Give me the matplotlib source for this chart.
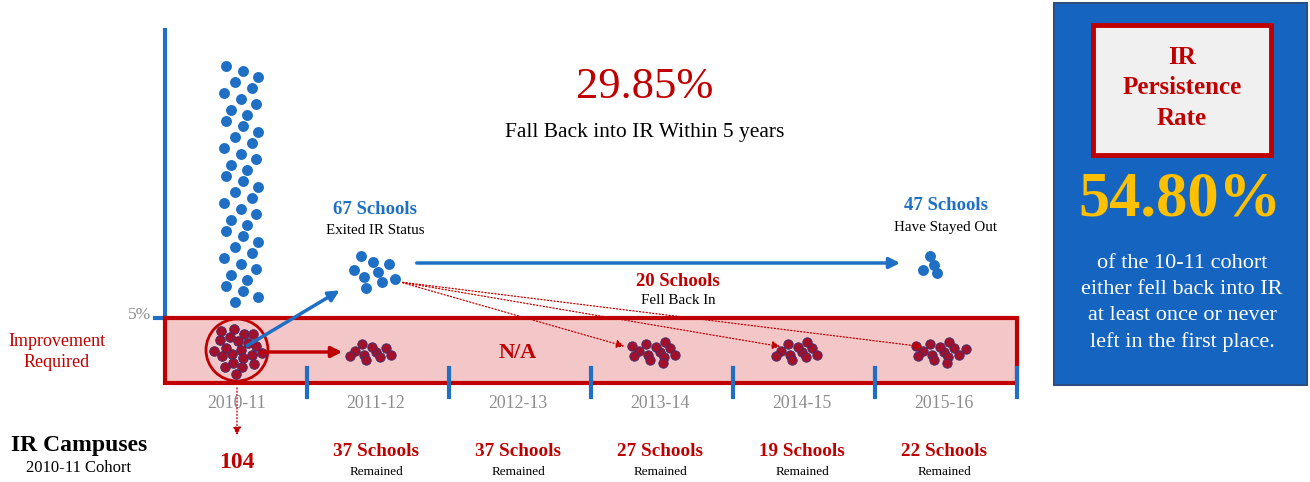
import numpy as np
import matplotlib
matplotlib.use("Agg")
import matplotlib.pyplot as plt
from matplotlib.patches import Rectangle, Circle

plt.rcParams['font.family'] = ['Liberation Serif', 'DejaVu Serif']

# --- data ---
years = ["2010-11", "2011-12", "2012-13", "2013-14", "2014-15", "2015-16"]
remained = [None, 37, 37, 27, 19, 22]          # None = 2012-13 shown as N/A in the band
cohort_total = 104
exited = 67
fell_back = 20
stayed_out = 47
fall_back_rate = "29.85%"
persistence_rate = "54.80%"
# decorative dot counts for each cluster in the band (2011-12 .. 2015-16)
band_dots = [10, 0, 13, 11, 14]

BLUE = "#1f6fc5"
RED = "#c00000"
DOT_RED = "#a3102c"
DOT_EDGE = "#3a2f6e"
GRAY = "#8c8c8c"

fig = plt.figure(figsize=(13.1, 4.82), dpi=100)
ax = fig.add_axes([0, 0, 1, 1])
ax.set_xlim(0, 1310)
ax.set_ylim(482, 0)
ax.axis("off")

# layout in pixels
x0, band_top, band_bot = 165, 318, 383
col_w = 142
centers = [237] + [376 + col_w * i for i in range(5)]


def cluster(cx, cy, n, sx=1.7, sy=1.0, step=5.2):
    # sunflower layout for a tidy blob of dots
    i = np.arange(n)
    r = step * np.sqrt(i + 0.5)
    t = i * 2.39996
    return cx + sx * r * np.cos(t), cy + sy * r * np.sin(t)


# vertical axis and 5% tick
ax.plot([x0, x0], [30, band_top], color=BLUE, lw=3, zorder=1)
ax.plot([155, x0], [band_top, band_top], color=BLUE, lw=3, zorder=1)
ax.text(151, 315, "5%", ha="right", va="center", fontsize=12.5, color=GRAY)

# red band
ax.add_patch(Rectangle((x0, band_top), 1017 - x0, band_bot - band_top,
                       facecolor="#f3c6c8", edgecolor=RED, lw=3, zorder=2))
ax.text(57, 352, "Improvement\nRequired", ha="center", va="center",
        fontsize=13, color=RED, linespacing=1.35)

# blue ticks between years
for i in range(6):
    xt = 307 + col_w * i
    ax.plot([xt, xt], [368, 397], color=BLUE, lw=3, zorder=3)
for xc, yr in zip(centers, years):
    ax.text(xc, 404, yr, ha="center", va="center", fontsize=12.8, color=GRAY)

# 2010-11 column of schools that were above 5%
offs = [-15, 2, 17, -6, 11, -17, 0, 15, -10, 6]
ny = 44
ys = np.linspace(66, 302, ny)
xs = [241 + offs[k % len(offs)] for k in range(ny)]
ax.scatter(xs, ys, s=62, color=BLUE, zorder=4, linewidths=0)

# circle of IR campuses in 2010-11
ax.add_patch(Circle((237, 350), 31, facecolor="none", edgecolor=RED, lw=2, zorder=4))
cx_, cy_ = cluster(237, 350, 22, sx=1.0, sy=1.0, step=5.4)
ax.scatter(cx_, cy_, s=48, color=DOT_RED, edgecolor=DOT_EDGE, linewidths=0.6, zorder=5)

# band clusters
for xc, n in zip(centers[1:], band_dots):
    if n == 0:
        continue
    px, py = cluster(xc - 5, 352, n, sx=1.7, sy=0.75, step=4.4)
    ax.scatter(px, py, s=46, color=DOT_RED, edgecolor=DOT_EDGE, linewidths=0.6, zorder=5)
ax.text(centers[2], 353, "N/A", ha="center", va="center", fontsize=16,
        fontweight="bold", color=RED)

# exited cluster and stayed-out cluster
px, py = cluster(372, 272, 9, sx=1.3, sy=1.0, step=6.5)
ax.scatter(px, py, s=62, color=BLUE, linewidths=0, zorder=5)
px, py = cluster(929, 265, 4, sx=1.3, sy=1.0, step=5.5)
ax.scatter(px, py, s=62, color=BLUE, linewidths=0, zorder=5)

# arrows
ax.annotate("", xy=(342, 289), xytext=(245, 347),
            arrowprops=dict(arrowstyle="-|>", color=BLUE, lw=2.5, mutation_scale=16), zorder=6)
ax.annotate("", xy=(345, 352), xytext=(258, 352),
            arrowprops=dict(arrowstyle="-|>", color=RED, lw=2.5, mutation_scale=16), zorder=6)
ax.annotate("", xy=(903, 263), xytext=(414, 263),
            arrowprops=dict(arrowstyle="-|>", color=BLUE, lw=2.5, mutation_scale=16), zorder=6)
for xe in [627, 783, 925]:
    ax.annotate("", xy=(xe, 347), xytext=(400, 282),
                arrowprops=dict(arrowstyle="-|>", color=RED, lw=0.9, ls=":",
                                mutation_scale=12), zorder=6)
ax.annotate("", xy=(237, 438), xytext=(237, 385),
            arrowprops=dict(arrowstyle="-|>", color=RED, lw=0.9, ls=":",
                            mutation_scale=12), zorder=6)

# flow labels
ax.text(375, 210, f"{exited} Schools", ha="center", va="center", fontsize=13.5,
        fontweight="bold", color=BLUE)
ax.text(375, 230, "Exited IR Status", ha="center", va="center", fontsize=10.8)
ax.text(946, 206, f"{stayed_out} Schools", ha="center", va="center", fontsize=13.5,
        fontweight="bold", color=BLUE)
ax.text(946, 227, "Have Stayed Out", ha="center", va="center", fontsize=10.8)
ax.text(678, 281, f"{fell_back} Schools", ha="center", va="center", fontsize=13.5,
        fontweight="bold", color=RED)
ax.text(678, 300, "Fell Back In", ha="center", va="center", fontsize=10.8)

ax.text(645, 87, fall_back_rate, ha="center", va="center", fontsize=32, color=RED)
ax.text(645, 132, "Fall Back into IR Within 5 years", ha="center", va="center", fontsize=15.5)

# bottom labels
ax.text(79, 446, "IR Campuses", ha="center", va="center", fontsize=17, fontweight="bold")
ax.text(79, 468, "2010-11 Cohort", ha="center", va="center", fontsize=12)
ax.text(237, 462, str(cohort_total), ha="center", va="center", fontsize=17,
        fontweight="bold", color=RED)
for xc, n in zip(centers[1:], remained[1:]):
    ax.text(xc, 452, f"{n} Schools", ha="center", va="center", fontsize=13.8,
            fontweight="bold", color=RED)
    ax.text(xc, 472, "Remained", ha="center", va="center", fontsize=9.5)

# right summary panel
ax.add_patch(Rectangle((1054, 3), 253, 382, facecolor="#1565c0", edgecolor="#2c4f80",
                       lw=1.5, zorder=2))
ax.add_patch(Rectangle((1093, 25), 178, 130, facecolor="#f0f0f0", edgecolor=RED,
                       lw=3.5, zorder=3))
ax.text(1182, 88, "IR\nPersistence\nRate", ha="center", va="center", fontsize=18,
        fontweight="bold", color=RED, linespacing=1.4, zorder=4)
ax.text(1180, 200, persistence_rate, ha="center", va="center", fontsize=45,
        fontweight="bold", color="#ffc000", zorder=4)
ax.text(1182, 303, "of the 10-11 cohort\neither fell back into IR\nat least once or never\nleft in the first place.",
        ha="center", va="center", fontsize=16, color="white", linespacing=1.5, zorder=4)

fig.savefig("out.png", dpi=100)
